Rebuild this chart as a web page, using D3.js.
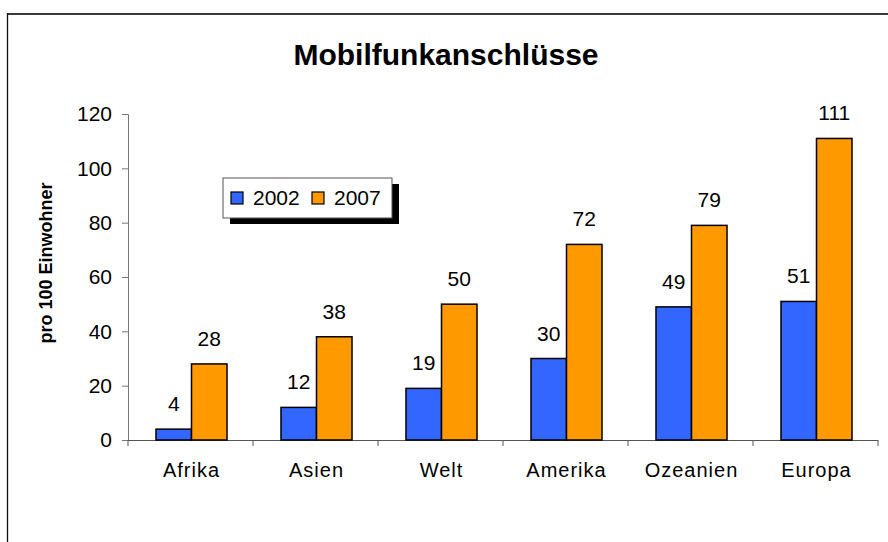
<!DOCTYPE html>
<html><head><meta charset="utf-8">
<script src="https://cdn.jsdelivr.net/npm/d3@7"></script>
<style>body{margin:0;background:#fff} svg text{font-family:Arial,"Liberation Sans",sans-serif;fill:#000}</style>
</head><body>
<svg id="c" width="888" height="542"></svg>
<script>
const categories = ["Afrika","Asien","Welt","Amerika","Ozeanien","Europa"];
const values2002 = [4,12,19,30,49,51];
const values2007 = [28,38,50,72,79,111];
const seriesNames = ["2002","2007"];
const seriesColors = ["#3366FF","#FF9900"];
const yTicks = [0,20,40,60,80,100,120];
const titleText = "Mobilfunkanschlüsse";
const yLabel = "pro 100 Einwohner";

const svg = d3.select("#c");
// frame
svg.append("line").attr("x1",7).attr("x2",888).attr("y1",14).attr("y2",14).attr("stroke","#3a3a3a").attr("stroke-width",2.2);
svg.append("line").attr("x1",7.5).attr("x2",7.5).attr("y1",13).attr("y2",542).attr("stroke","#111").attr("stroke-width",1.3);

const x0 = d3.scaleBand().domain(categories).range([128,878]).paddingInner(0).paddingOuter(0);
const x1 = d3.scaleBand().domain(seriesNames).range([1,x0.bandwidth()+1]).paddingInner(0).paddingOuter(0.76);
const y = d3.scaleLinear().domain([0,120]).range([440,114]);

svg.append("text").attr("x",446).attr("y",65).attr("text-anchor","middle")
  .style("font-size","30px").style("font-weight","bold").text(titleText);

// y axis
const ya = svg.append("g").attr("transform","translate(128,0)")
  .call(d3.axisLeft(y).tickValues(yTicks).tickSize(6).tickPadding(10));
ya.select(".domain").attr("stroke","#777");
ya.selectAll(".tick line").attr("stroke","#777");
ya.selectAll(".tick text").style("font-size","21px").attr("fill","#000");

svg.append("text").attr("transform","translate(52,263) rotate(-90)").attr("text-anchor","middle")
  .style("font-size","18px").style("font-weight","bold").text(yLabel);

// x axis
svg.append("line").attr("x1",128).attr("x2",878).attr("y1",440.5).attr("y2",440.5).attr("stroke","#555");
svg.append("g").selectAll("line").data(categories.concat(["_end"])).join("line")
  .attr("x1",(d,i)=> i<categories.length ? x0(d) : x0.range()[1])
  .attr("x2",(d,i)=> i<categories.length ? x0(d) : x0.range()[1])
  .attr("y1",440).attr("y2",446).attr("stroke","#555");
svg.append("g").selectAll("text").data(categories).join("text")
  .attr("x",d=>x0(d)+x0.bandwidth()/2+1).attr("y",477).attr("text-anchor","middle")
  .style("font-size","20px").style("letter-spacing","1px").text(d=>d);

// bars
const data = categories.map((c,i)=>({c, vals:[values2002[i],values2007[i]]}));
const groups = svg.append("g").selectAll("g").data(data).join("g")
  .attr("transform",d=>`translate(${x0(d.c)},0)`);
groups.selectAll("rect").data(d=>d.vals.map((v,j)=>({v,s:seriesNames[j],j}))).join("rect")
  .attr("x",d=>x1(d.s)).attr("width",x1.bandwidth())
  .attr("y",d=>y(d.v)).attr("height",d=>y(0)-y(d.v))
  .attr("fill",d=>seriesColors[d.j]).attr("stroke","#000").attr("stroke-width",1.5);
groups.selectAll("text").data(d=>d.vals.map((v,j)=>({v,s:seriesNames[j]}))).join("text")
  .attr("x",d=>x1(d.s)+x1.bandwidth()/2).attr("y",d=>y(d.v)-18).attr("text-anchor","middle")
  .style("font-size","21px").text(d=>d.v);

// legend
const lg = svg.append("g").attr("transform","translate(223,178)");
lg.append("rect").attr("x",7).attr("y",6).attr("width",169).attr("height",40).attr("fill","#000");
lg.append("rect").attr("x",0).attr("y",0).attr("width",169).attr("height",40).attr("fill","#fff").attr("stroke","#555").attr("stroke-width",1);
const li = lg.selectAll("g").data(seriesNames).join("g").attr("transform",(d,i)=>`translate(${8+i*81},14)`);
li.append("rect").attr("width",12).attr("height",12).attr("fill",(d,i)=>seriesColors[i]).attr("stroke","#000").attr("stroke-width",1.2);
li.append("text").attr("x",22).attr("y",13).style("font-size","21px").text(d=>d);
</script>
</body></html>
